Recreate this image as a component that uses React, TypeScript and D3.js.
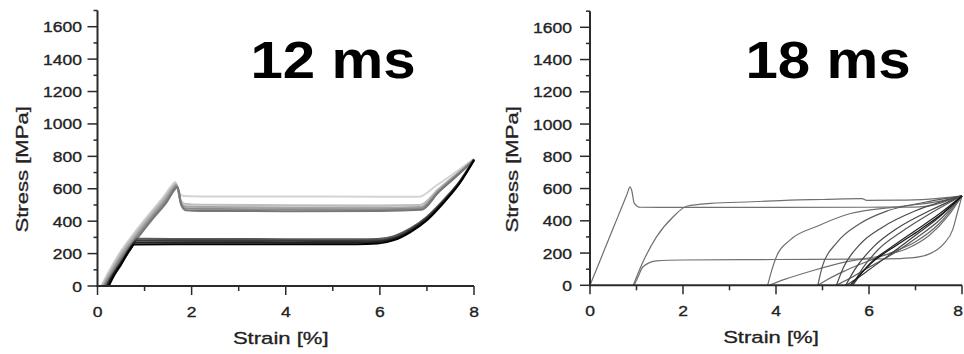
import React from 'react';
import * as d3 from 'd3';

type Pt = [number, number];

// ---------- axes ----------
const STRAIN_TICKS = [0, 2, 4, 6, 8];
const STRAIN_MINOR = [1, 3, 5, 7];
const STRESS_TICKS = [0, 200, 400, 600, 800, 1000, 1200, 1400, 1600];
const STRESS_MINOR = [100, 300, 500, 700, 900, 1100, 1300, 1500, 1700];
const PANEL_TITLES = ['12 ms', '18 ms'];
const X_LABEL = 'Strain [%]';
const Y_LABEL = 'Stress [MPa]';

// ---------- 12 ms : loading branches (light -> mid gray) ----------
const ms12LoadA: Pt[] = [[0.08, 0], [0.25, 95], [0.45, 195], [0.8, 335], [1.1, 445], [1.4, 550], [1.58, 622], [1.65, 642], [1.69, 620], [1.74, 575], [1.82, 556], [2.2, 553], [4, 552], [6, 551], [6.82, 550], [7.2, 620], [7.6, 700], [8, 785]];
const ms12LoadB: Pt[] = [[0.1, 0], [0.27, 92], [0.47, 190], [0.82, 330], [1.12, 440], [1.42, 545], [1.6, 615], [1.66, 632], [1.7, 605], [1.75, 540], [1.84, 508], [2.2, 501], [4, 498], [6, 497], [6.85, 500], [7.25, 600], [7.6, 685], [8, 782]];
const ms12LoadC: Pt[] = [[0.12, 0], [0.29, 88], [0.49, 185], [0.84, 322], [1.14, 432], [1.44, 538], [1.61, 608], [1.67, 625], [1.71, 598], [1.76, 525], [1.85, 492], [2.2, 487], [4, 485], [6, 484], [6.86, 488], [7.25, 592], [7.6, 680], [8, 780]];
const ms12LoadD: Pt[] = [[0.14, 0], [0.31, 85], [0.51, 180], [0.86, 315], [1.16, 425], [1.46, 530], [1.62, 600], [1.68, 618], [1.72, 590], [1.77, 510], [1.86, 480], [2.2, 475], [4, 473], [6, 473], [6.87, 478], [7.25, 585], [7.6, 675], [8, 778]];
const ms12LoadE: Pt[] = [[0.16, 0], [0.33, 82], [0.53, 175], [0.88, 308], [1.18, 418], [1.48, 522], [1.63, 592], [1.69, 610], [1.73, 582], [1.78, 500], [1.87, 468], [2.2, 463], [4, 462], [6, 463], [6.88, 470], [7.25, 580], [7.6, 670], [8, 776]];

// ---------- 12 ms : unloading branches (dark) ----------
const ms12UnloadA: Pt[] = [[8, 782], [7.7, 648], [7.35, 530], [7.0, 428], [6.65, 355], [6.3, 308], [5.95, 290], [5.5, 288], [4, 289], [2, 290], [0.85, 292], [0.72, 250], [0.5, 150], [0.3, 60], [0.18, 0]];
const ms12UnloadB: Pt[] = [[8, 780], [7.7, 644], [7.35, 524], [7.0, 420], [6.65, 347], [6.3, 298], [5.95, 280], [5.5, 278], [4, 279], [2, 280], [0.83, 280], [0.72, 245], [0.5, 145], [0.3, 55], [0.2, 0]];
const ms12UnloadC: Pt[] = [[8, 778], [7.7, 640], [7.35, 518], [7.0, 413], [6.65, 340], [6.3, 290], [5.95, 271], [5.5, 268], [4, 269], [2, 270], [0.8, 268], [0.72, 238], [0.5, 138], [0.3, 50], [0.22, 0]];
const ms12UnloadD: Pt[] = [[8, 776], [7.7, 636], [7.35, 512], [7.0, 406], [6.65, 333], [6.3, 283], [5.95, 262], [5.5, 258], [4, 257], [2, 258], [0.78, 256], [0.7, 228], [0.5, 132], [0.32, 48], [0.24, 0]];

// ---------- 18 ms ----------
const ms18Load1: Pt[] = [[0, 0], [0.2, 142], [0.4, 284], [0.6, 426], [0.8, 568], [0.86, 611], [0.9, 585], [0.95, 510], [1.08, 484], [1.5, 483], [4, 483], [6, 484], [7.0, 485], [7.3, 492], [7.6, 515], [8, 555]];
const ms18Unload1: Pt[] = [[8, 555], [7.9, 450], [7.8, 345], [7.6, 255], [7.3, 195], [6.9, 170], [6.4, 164], [4, 160], [2, 157], [1.43, 152], [1.14, 115], [1.03, 50], [0.95, 0]];
const ms18Load2: Pt[] = [[0.93, 0], [1.1, 120], [1.43, 300], [1.79, 425], [2.08, 490], [2.6, 508], [3.5, 518], [4.3, 528], [5, 532], [5.85, 537], [5.95, 527], [6.6, 528], [7.3, 535], [8, 555]];
const ms18Unload2: Pt[] = [[8, 555], [7.7, 430], [7.3, 310], [6.8, 225], [6.2, 180], [5.5, 145], [4.8, 92], [4.2, 38], [3.85, 0]];
const ms18Load3: Pt[] = [[3.82, 0], [3.9, 85], [4.02, 185], [4.3, 280], [4.9, 368], [5.6, 445], [6.7, 490], [7.5, 520], [8, 555]];
const ms18Unload3: Pt[] = [[8, 555], [7.5, 380], [7, 270], [6.5, 205], [6, 152], [5.5, 92], [5.1, 35], [4.9, 0]];
const ms18Load4: Pt[] = [[4.9, 0], [5.0, 120], [5.3, 262], [5.8, 382], [6.4, 462], [7.2, 515], [8, 555]];
const ms18Unload4: Pt[] = [[8, 555], [7.5, 400], [7, 290], [6.5, 192], [6, 112], [5.6, 45], [5.3, 0]];
const ms18Load5: Pt[] = [[5.3, 0], [5.45, 110], [5.8, 252], [6.3, 362], [7, 462], [8, 555]];
const ms18Unload5: Pt[] = [[8, 555], [7.5, 420], [7, 310], [6.5, 202], [6, 96], [5.7, 35], [5.5, 0]];
const ms18Load6: Pt[] = [[5.5, 0], [5.7, 100], [6.1, 240], [6.6, 352], [7.3, 462], [8, 555]];
const ms18Unload6: Pt[] = [[8, 555], [7.5, 440], [7, 340], [6.5, 240], [6, 130], [5.8, 60], [5.65, 0]];
const ms18Load7: Pt[] = [[5.65, 0], [5.85, 100], [6.2, 222], [6.7, 332], [7.3, 442], [8, 555]];
const ms18Unload7: Pt[] = [[8, 555], [7.6, 450], [7.1, 345], [6.6, 250], [6.1, 150], [5.85, 80], [5.6, 0]];

const left12 = [ms12LoadA, ms12LoadB, ms12LoadC, ms12LoadD, ms12LoadE, ms12UnloadA, ms12UnloadB, ms12UnloadC, ms12UnloadD];
const left12Colors = ['#d4d4d4', '#bdbdbd', '#a5a5a5', '#8c8c8c', '#767676', '#5a5a5a', '#3a3a3a', '#222', '#000'];
const right18 = [ms18Load1, ms18Unload1, ms18Load2, ms18Unload2, ms18Load3, ms18Unload3, ms18Load4, ms18Unload4, ms18Load5, ms18Unload5, ms18Load6, ms18Unload6, ms18Load7, ms18Unload7];
const right18Colors = ['#707070', '#707070', '#707070', '#707070', '#707070', '#6a6a6a', '#5a5a5a', '#555', '#4a4a4a', '#3a3a3a', '#444', '#222', '#555', '#111'];

const FONT = 'Liberation Sans, Arial, Helvetica, sans-serif';

interface PanelProps {
  x0: number; x1: number; y0: number; y1600: number;
  title: string; titleX: number;
  curves: Pt[][]; colors: string[]; lineWidth: number;
  labelRight: number; yLabelX: number;
}

function Panel(p: PanelProps) {
  const x = d3.scaleLinear().domain([0, 8]).range([p.x0, p.x1]);
  const y = d3.scaleLinear().domain([0, 1600]).range([p.y0, p.y1600]);
  const line = d3.line<Pt>().x(d => x(d[0])).y(d => y(d[1])).curve(d3.curveMonotoneX);
  const yTop = y(1700);
  const axisColor = '#2a2a2a';
  const tickText = { fontFamily: FONT, fontSize: 15.5, fill: '#222', stroke: '#222', strokeWidth: 0.35 };
  return (
    <g>
      {p.curves.map((c, i) => (
        <path key={i} d={line(c) || ''} fill="none" stroke={p.colors[i]} strokeWidth={p.lineWidth} strokeLinejoin="round" />
      ))}
      {/* y axis */}
      <line x1={p.x0} x2={p.x0} y1={p.y0 + 1} y2={yTop} stroke={axisColor} strokeWidth={2} />
      {STRESS_TICKS.map(t => (
        <g key={t}>
          <line x1={p.x0 - 10} x2={p.x0} y1={y(t)} y2={y(t)} stroke={axisColor} strokeWidth={1.5} />
          <text transform={`translate(${p.labelRight},${y(t) + 5.5}) scale(1.13,1)`} textAnchor="end" {...tickText}>{t}</text>
        </g>
      ))}
      {STRESS_MINOR.map(t => (
        <line key={t} x1={p.x0 - 4} x2={p.x0} y1={y(t)} y2={y(t)} stroke={axisColor} strokeWidth={1.5} />
      ))}
      {/* x axis */}
      <line x1={p.x0 - 1} x2={p.x1} y1={p.y0} y2={p.y0} stroke={axisColor} strokeWidth={2} />
      {STRAIN_TICKS.map(t => {
        const tx = x(t);
        const clip = tx + 6 > 963;
        return (
          <g key={t}>
            <line x1={tx} x2={tx} y1={p.y0} y2={p.y0 + 9} stroke={axisColor} strokeWidth={1.5} />
            <text transform={`translate(${clip ? 963 : tx},${p.y0 + 31}) scale(1.13,1)`} textAnchor={clip ? 'end' : 'middle'} {...tickText}>{t}</text>
          </g>
        );
      })}
      {STRAIN_MINOR.map(t => (
        <line key={t} x1={x(t)} x2={x(t)} y1={p.y0} y2={p.y0 + 5} stroke={axisColor} strokeWidth={1.5} />
      ))}
      <text transform={`translate(${x(4) - 5},${p.y0 + 58}) scale(1.3,1)`} textAnchor="middle" fontFamily={FONT} fontSize={17} fill="#222" stroke="#222" strokeWidth={0.3}>{X_LABEL}</text>
      <text transform={`translate(${p.yLabelX},${y(800) + 13}) rotate(-90) scale(1.3,1)`} textAnchor="middle" fontFamily={FONT} fontSize={17} fill="#222" stroke="#222" strokeWidth={0.3}>{Y_LABEL}</text>
      <text transform={`translate(${p.titleX},78) scale(1.12,1)`} textAnchor="middle" fontFamily={FONT} fontWeight="bold" fontSize={52} fill="#000">{p.title}</text>
    </g>
  );
}

export default function App() {
  return (
    <svg width={964} height={354} style={{ position: 'absolute', left: 0, top: 0, background: '#fff' }}>
      <rect width={964} height={354} fill="#fff" />
      <Panel x0={97.5} x1={474} y0={286} y1600={26.7} title={PANEL_TITLES[0]} titleX={333} curves={left12} colors={left12Colors} lineWidth={2} labelRight={82} yLabelX={28} />
      <Panel x0={590} x1={962} y0={285.3} y1600={27.3} title={PANEL_TITLES[1]} titleX={828} curves={right18} colors={right18Colors} lineWidth={1.2} labelRight={572} yLabelX={518} />
    </svg>
  );
}
